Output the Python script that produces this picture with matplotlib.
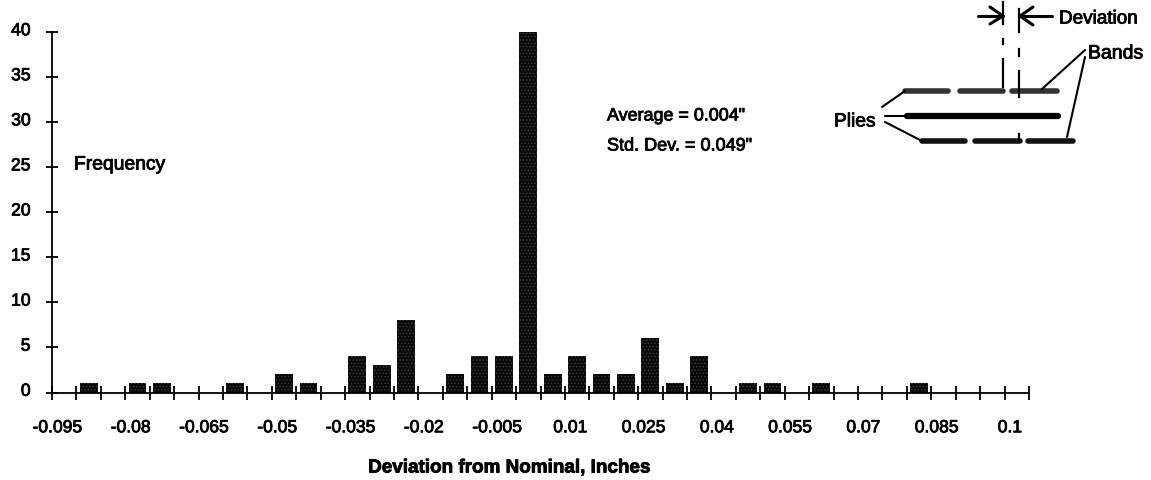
import matplotlib
matplotlib.use('Agg')
import matplotlib.pyplot as plt
import matplotlib.patheffects as pe
from matplotlib.transforms import ScaledTranslation
import numpy as np

plt.rcParams['font.family'] = ['Liberation Sans', 'DejaVu Sans']
plt.rcParams['hatch.linewidth'] = 0.6

# one bin every 0.005 in, only every third one gets a label
bins = ['-0.095', '-0.09', '-0.085', '-0.08', '-0.075', '-0.07', '-0.065', '-0.06',
        '-0.055', '-0.05', '-0.045', '-0.04', '-0.035', '-0.03', '-0.025', '-0.02',
        '-0.015', '-0.01', '-0.005', '0', '0.005', '0.01', '0.015', '0.02',
        '0.025', '0.03', '0.035', '0.04', '0.045', '0.05', '0.055', '0.06',
        '0.065', '0.07', '0.075', '0.08', '0.085', '0.09', '0.095', '0.1']
freq = [0, 1, 0, 1, 1, 0, 0, 1, 0, 2, 1, 0, 4, 3, 8, 0, 2, 4, 4, 40,
        2, 4, 2, 2, 6, 1, 4, 0, 1, 1, 0, 1, 0, 0, 0, 1, 0, 0, 0, 0]
yticks = [0, 5, 10, 15, 20, 25, 30, 35, 40]

W, H = 1151, 481
heavy = [pe.withStroke(linewidth=0.6, foreground='black')]

fig = plt.figure(figsize=(W / 100, H / 100), dpi=100)
ax = fig.add_axes([52 / W, 1 - 393.5 / H, 977 / W, 360.5 / H])

pos = np.arange(len(freq))
ax.bar(pos, freq, width=0.73, color='#080808', edgecolor='#3c3c3c', linewidth=0, hatch='.....')

ax.set_xlim(-0.5, 39.5)
ax.set_ylim(0, 40)
ax.spines['top'].set_visible(False)
ax.spines['right'].set_visible(False)
ax.spines['left'].set_linewidth(1.3)
ax.spines['bottom'].set_linewidth(1.3)

ax.set_xticks(pos[::3])
ax.set_xticklabels(bins[::3], fontsize=12.6, path_effects=heavy)
ax.tick_params(axis='x', which='major', length=0, pad=20)
ax.set_xticks(np.arange(-0.5, 40), minor=True)
ax.tick_params(axis='x', which='minor', direction='inout', length=10, width=1.3)

ax.set_yticks(yticks)
ax.set_yticklabels(yticks, fontsize=12.6, path_effects=heavy)
ax.tick_params(axis='y', direction='inout', length=9, width=1.3, pad=11)

# the labels in the original sit a little off their ticks
for lab in ax.get_xticklabels():
    lab.set_transform(lab.get_transform() + ScaledTranslation(-5 / 72, 0, fig.dpi_scale_trans))
for lab in ax.get_yticklabels():
    lab.set_transform(lab.get_transform() + ScaledTranslation(0, 2 / 72, fig.dpi_scale_trans))

# notes and the little ply sketch are placed in picture pixels
over = fig.add_axes([0, 0, 1, 1])
over.set_xlim(0, W)
over.set_ylim(H, 0)
over.axis('off')
over.patch.set_alpha(0)

over.text(509.5, 469, 'Deviation from Nominal, Inches', fontsize=13.6, fontweight='bold',
          ha='center', va='center', path_effects=heavy)
over.text(74, 166, 'Frequency', fontsize=13.9, va='center', path_effects=heavy)
over.text(607, 117, 'Average = 0.004"', fontsize=12.9, va='center', path_effects=heavy)
over.text(607, 147, 'Std. Dev. = 0.049"', fontsize=13, va='center', path_effects=heavy)
over.text(1059, 20, 'Deviation', fontsize=13.6, va='center', path_effects=heavy)
over.text(1088, 55, 'Bands', fontsize=14, va='center', path_effects=heavy)
over.text(834, 123, 'Plies', fontsize=13.8, va='center', path_effects=heavy)

top_band = [(905, 948), (960, 1003), (1012, 1057)]
mid_band = [(907, 1058)]
low_band = [(922, 965), (975, 1020), (1028, 1073)]
for segs, y, col, lw in [(top_band, 92, '#333333', 4), (mid_band, 117, 'black', 4.5),
                         (low_band, 142, '#111111', 4)]:
    for x0, x1 in segs:
        over.plot([x0, x1], [y, y], color=col, lw=lw, solid_capstyle='round')

dash_left = [(3, 25), (40, 45), (60, 88)]
dash_right = [(10, 33), (50, 57), (72, 98), (135, 142)]
for x, spans in [(1003, dash_left), (1019, dash_right)]:
    for y0, y1 in spans:
        over.plot([x, x], [y0, y1], color='black', lw=1.6)

arrows = [((978, 1003), (17, 17)), ((990, 1003), (8, 17)), ((990, 1003), (25, 17)),
          ((1052, 1020), (17, 17)), ((1033, 1020), (8, 17)), ((1033, 1020), (26, 17))]
for xs, ys in arrows:
    over.plot(xs, ys, color='black', lw=2.2, solid_capstyle='round')

leaders = [((1085, 1042), (51, 90)), ((1085, 1067), (58, 138)),
           ((882, 905), (108, 92)), ((885, 907), (117, 117)), ((885, 922), (123, 142))]
for xs, ys in leaders:
    over.plot(xs, ys, color='black', lw=1.5, solid_capstyle='round')

fig.savefig('out.png', dpi=100)
